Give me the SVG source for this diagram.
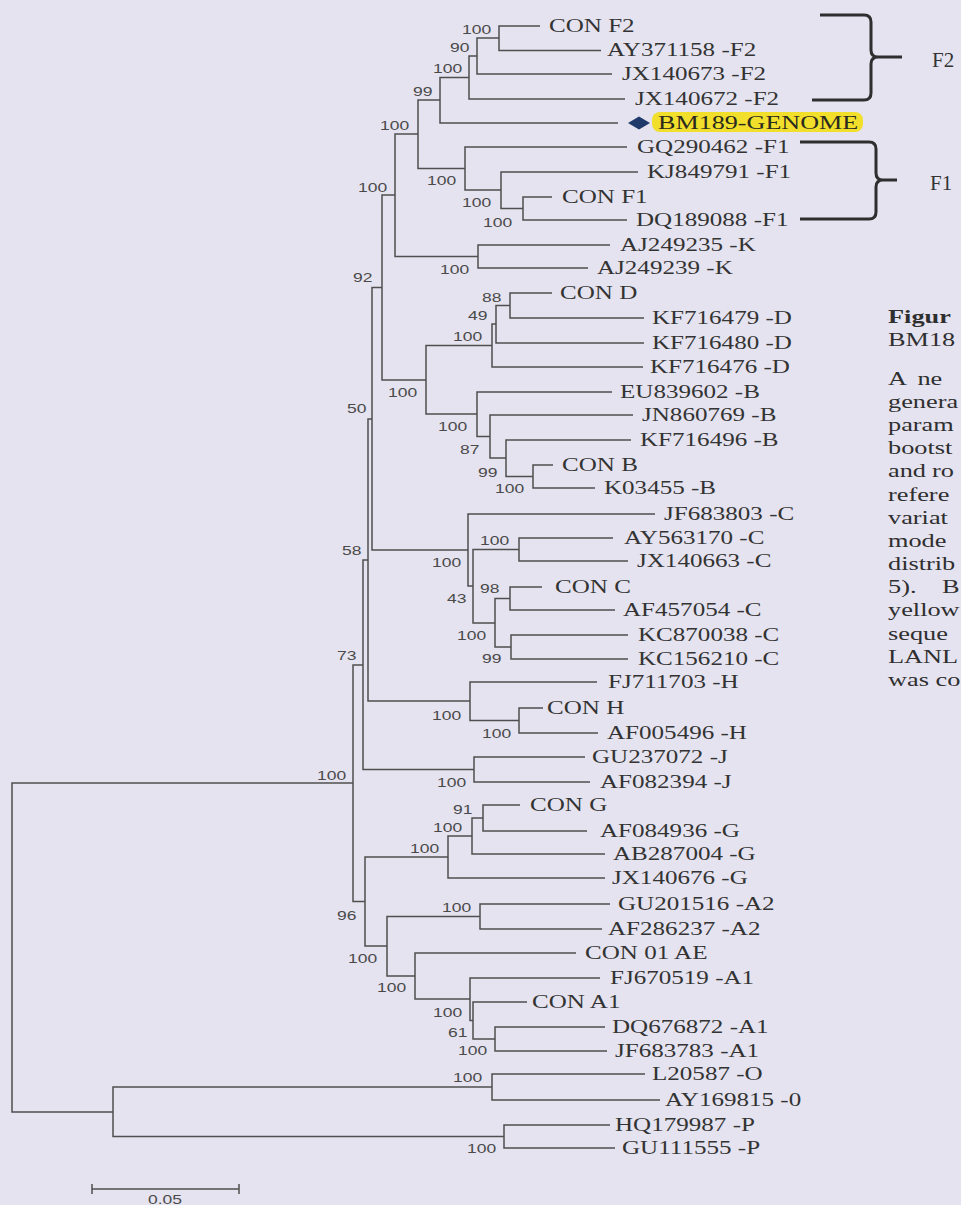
<svg xmlns="http://www.w3.org/2000/svg" width="961" height="1205" viewBox="0 0 961 1205">
<style>
.br{stroke:#4f4f4f;stroke-width:1.5;fill:none}
.lf{font-family:"Liberation Serif",serif;font-size:19px;fill:#333;transform-box:fill-box;transform-origin:0 0;transform:scaleX(1.32)}
.bs{font-family:"Liberation Sans",sans-serif;font-size:12.5px;fill:#4a4a4a;transform-box:fill-box;transform-origin:0 0;transform:scaleX(1.4)}
.bk{stroke:#2e2e2e;stroke-width:3;fill:none}
.cap{font-family:"Liberation Serif",serif;font-size:18.8px;fill:#2f2f2f}
.fl{font-family:"Liberation Serif",serif;font-size:21px;fill:#333}
</style>
<rect x="0" y="0" width="961" height="1205" fill="#e5e3ef"/>
<g id="connectors">
<path class="br" d="M540 26H499V50.5H601"/>
<path class="br" d="M499 38H477V74H612"/>
<path class="br" d="M477 56H469V99H625"/>
<path class="br" d="M469 77.5H440V123H618"/>
<path class="br" d="M552 197H523V220H627"/>
<path class="br" d="M638 172H501V208.5H523"/>
<path class="br" d="M627 147H465V190H501"/>
<path class="br" d="M440 100H418V168.5H465"/>
<path class="br" d="M610 245H478V268H588"/>
<path class="br" d="M418 134H395V256.5H478"/>
<path class="br" d="M552 293H510V318H644"/>
<path class="br" d="M510 305.5H496V343H644"/>
<path class="br" d="M496 324H492V367H643"/>
<path class="br" d="M553 465H533V488H595"/>
<path class="br" d="M631 440H506V476.5H533"/>
<path class="br" d="M633 415H490V458H506"/>
<path class="br" d="M612 392H477V436.5H490"/>
<path class="br" d="M492 345.5H426V414H477"/>
<path class="br" d="M395 195H382V380H426"/>
<path class="br" d="M613 538H519V561H628"/>
<path class="br" d="M542 587H510V610H615"/>
<path class="br" d="M628 635H511V659H628"/>
<path class="br" d="M510 598.5H495V647H511"/>
<path class="br" d="M519 549.5H473V623H495"/>
<path class="br" d="M655 514H468V586H473"/>
<path class="br" d="M382 287.5H372V550H468"/>
<path class="br" d="M543 708H519V733H598"/>
<path class="br" d="M597 682H470V720.5H519"/>
<path class="br" d="M372 419H368V701H470"/>
<path class="br" d="M585 757H474V782H590"/>
<path class="br" d="M368 560H363V769.5H474"/>
<path class="br" d="M520 805H483V831H587"/>
<path class="br" d="M483 818H472V854H605"/>
<path class="br" d="M472 836H448V878H605"/>
<path class="br" d="M610 904H480V929H602"/>
<path class="br" d="M605 1027H495V1051H607"/>
<path class="br" d="M527 1002H473V1039H495"/>
<path class="br" d="M600 978H470V1020.5H473"/>
<path class="br" d="M576 953H415V999H470"/>
<path class="br" d="M480 916.5H387V976H415"/>
<path class="br" d="M448 857H365V946H387"/>
<path class="br" d="M363 665H353V901.5H365"/>
<path class="br" d="M645 1074H492V1100H660"/>
<path class="br" d="M610 1125H504V1148H615"/>
<path class="br" d="M492 1087H113V1136.5H504"/>
<path class="br" d="M353 783H12V1112H113"/>
</g>
<g id="leaves">
<g id="leaf-conf2"><text class="lf" x="549" y="32">CON F2</text></g>
<g id="leaf-ay371158"><text class="lf" x="607" y="56.5">AY371158 -F2</text></g>
<g id="leaf-jx140673"><text class="lf" x="622" y="80">JX140673 -F2</text></g>
<g id="leaf-jx140672"><text class="lf" x="635" y="105">JX140672 -F2</text></g>
<g id="leaf-bm189">
<rect x="652" y="112" width="211" height="20" rx="8" fill="#f1df2c"/>
<polygon points="628,123 639,116.5 650,123 639,129.5" fill="#1f3a6a"/>
<text class="lf" x="658" y="129" style="font-size:19.5px;fill:#2a2a1e;transform:scaleX(1.34)">BM189-GENOME</text>
</g>
<g id="leaf-gq290462"><text class="lf" x="637" y="153">GQ290462 -F1</text></g>
<g id="leaf-kj849791"><text class="lf" x="647" y="178">KJ849791 -F1</text></g>
<g id="leaf-conf1"><text class="lf" x="562" y="203">CON F1</text></g>
<g id="leaf-dq189088"><text class="lf" x="636" y="226">DQ189088 -F1</text></g>
<g id="leaf-aj249235"><text class="lf" x="620" y="251">AJ249235 -K</text></g>
<g id="leaf-aj249239"><text class="lf" x="597" y="274">AJ249239 -K</text></g>
<g id="leaf-cond"><text class="lf" x="560" y="299">CON D</text></g>
<g id="leaf-kf716479"><text class="lf" x="652" y="324">KF716479 -D</text></g>
<g id="leaf-kf716480"><text class="lf" x="652" y="349">KF716480 -D</text></g>
<g id="leaf-kf716476"><text class="lf" x="650" y="373">KF716476 -D</text></g>
<g id="leaf-eu839602"><text class="lf" x="620" y="398">EU839602 -B</text></g>
<g id="leaf-jn860769"><text class="lf" x="642" y="421">JN860769 -B</text></g>
<g id="leaf-kf716496"><text class="lf" x="640" y="446">KF716496 -B</text></g>
<g id="leaf-conb"><text class="lf" x="562" y="471">CON B</text></g>
<g id="leaf-k03455"><text class="lf" x="604" y="494">K03455 -B</text></g>
<g id="leaf-jf683803"><text class="lf" x="664" y="520">JF683803 -C</text></g>
<g id="leaf-ay563170"><text class="lf" x="624" y="544">AY563170 -C</text></g>
<g id="leaf-jx140663"><text class="lf" x="637" y="567">JX140663 -C</text></g>
<g id="leaf-conc"><text class="lf" x="555" y="593">CON C</text></g>
<g id="leaf-af457054"><text class="lf" x="623" y="616">AF457054 -C</text></g>
<g id="leaf-kc870038"><text class="lf" x="638" y="641">KC870038 -C</text></g>
<g id="leaf-kc156210"><text class="lf" x="638" y="665">KC156210 -C</text></g>
<g id="leaf-fj711703"><text class="lf" x="608" y="688">FJ711703 -H</text></g>
<g id="leaf-conh"><text class="lf" x="547" y="714">CON H</text></g>
<g id="leaf-af005496"><text class="lf" x="607" y="739">AF005496 -H</text></g>
<g id="leaf-gu237072"><text class="lf" x="592" y="763">GU237072 -J</text></g>
<g id="leaf-af082394"><text class="lf" x="600" y="788">AF082394 -J</text></g>
<g id="leaf-cong"><text class="lf" x="530" y="811">CON G</text></g>
<g id="leaf-af084936"><text class="lf" x="600" y="837">AF084936 -G</text></g>
<g id="leaf-ab287004"><text class="lf" x="613" y="860">AB287004 -G</text></g>
<g id="leaf-jx140676"><text class="lf" x="612" y="884">JX140676 -G</text></g>
<g id="leaf-gu201516"><text class="lf" x="618" y="910">GU201516 -A2</text></g>
<g id="leaf-af286237"><text class="lf" x="608" y="935">AF286237 -A2</text></g>
<g id="leaf-con01ae"><text class="lf" x="585" y="959">CON 01 AE</text></g>
<g id="leaf-fj670519"><text class="lf" x="610" y="984">FJ670519 -A1</text></g>
<g id="leaf-cona1"><text class="lf" x="532" y="1008">CON A1</text></g>
<g id="leaf-dq676872"><text class="lf" x="612" y="1033">DQ676872 -A1</text></g>
<g id="leaf-jf683783"><text class="lf" x="615" y="1057">JF683783 -A1</text></g>
<g id="leaf-l20587"><text class="lf" x="652" y="1080">L20587 -O</text></g>
<g id="leaf-ay169815"><text class="lf" x="665" y="1106">AY169815 -0</text></g>
<g id="leaf-hq179987"><text class="lf" x="615" y="1131">HQ179987 -P</text></g>
<g id="leaf-gu111555"><text class="lf" x="622" y="1154">GU111555 -P</text></g>
</g>
<g id="bootstrap">
<g id="n499"><text class="bs" x="462" y="34">100</text></g>
<g id="n477b"><text class="bs" x="450" y="52">90</text></g>
<g id="n469"><text class="bs" x="433" y="73">100</text></g>
<g id="n440"><text class="bs" x="413" y="96">99</text></g>
<g id="n418"><text class="bs" x="380" y="130">100</text></g>
<g id="n395"><text class="bs" x="358" y="192">100</text></g>
<g id="n465"><text class="bs" x="427" y="185">100</text></g>
<g id="n501"><text class="bs" x="462" y="207">100</text></g>
<g id="n523"><text class="bs" x="483" y="227">100</text></g>
<g id="n478"><text class="bs" x="440" y="274">100</text></g>
<g id="n382"><text class="bs" x="353" y="282">92</text></g>
<g id="n510"><text class="bs" x="482" y="302">88</text></g>
<g id="n496"><text class="bs" x="468" y="320">49</text></g>
<g id="n492"><text class="bs" x="453" y="341">100</text></g>
<g id="n426"><text class="bs" x="388" y="397">100</text></g>
<g id="n372"><text class="bs" x="347" y="413">50</text></g>
<g id="n477"><text class="bs" x="438" y="431">100</text></g>
<g id="n490"><text class="bs" x="460" y="454">87</text></g>
<g id="n506"><text class="bs" x="478" y="477">99</text></g>
<g id="n533"><text class="bs" x="495" y="493">100</text></g>
<g id="n519c"><text class="bs" x="480" y="545">100</text></g>
<g id="n368"><text class="bs" x="342" y="555">58</text></g>
<g id="n468c"><text class="bs" x="432" y="567">100</text></g>
<g id="n510c"><text class="bs" x="480" y="593">98</text></g>
<g id="n473c"><text class="bs" x="447" y="603">43</text></g>
<g id="n495c"><text class="bs" x="457" y="640">100</text></g>
<g id="n363"><text class="bs" x="337" y="660">73</text></g>
<g id="n511c"><text class="bs" x="482" y="663">99</text></g>
<g id="n470h"><text class="bs" x="432" y="720">100</text></g>
<g id="n519h"><text class="bs" x="482" y="738">100</text></g>
<g id="n353"><text class="bs" x="317" y="780">100</text></g>
<g id="n474j"><text class="bs" x="437" y="787">100</text></g>
<g id="n483g"><text class="bs" x="453" y="814">91</text></g>
<g id="n472g"><text class="bs" x="433" y="832">100</text></g>
<g id="n448g"><text class="bs" x="410" y="853">100</text></g>
<g id="n480a"><text class="bs" x="442" y="912">100</text></g>
<g id="n365"><text class="bs" x="337" y="920">96</text></g>
<g id="n387a"><text class="bs" x="348" y="963">100</text></g>
<g id="n415a"><text class="bs" x="377" y="992">100</text></g>
<g id="n470a"><text class="bs" x="433" y="1017">100</text></g>
<g id="n473a"><text class="bs" x="448" y="1037">61</text></g>
<g id="n495a"><text class="bs" x="458" y="1055">100</text></g>
<g id="n492o"><text class="bs" x="453" y="1082">100</text></g>
<g id="n504p"><text class="bs" x="467" y="1153">100</text></g>
</g>
<g id="scalebar">
<path class="br" d="M92 1189H239M92 1184V1194M239 1184V1194"/>
<text class="bs" x="148" y="1204">0.05</text>
</g>
<g id="bracket-f2">
<path class="bk" d="M820 15H864Q871 15 871 22V50Q871 57 878 57H902M878 57Q871 57 871 64V93Q871 100 864 100H812"/>
<text class="fl" x="932" y="67">F2</text>
</g>
<g id="bracket-f1">
<path class="bk" d="M800 142H869Q876 142 876 149V173Q876 180 883 180H897M883 180Q876 180 876 187V212Q876 219 869 219H800"/>
<text class="fl" x="930" y="190">F1</text>
</g>
<g id="caption" transform="translate(888 0) scale(1.4 1)">
<text class="cap" x="0" y="323" font-weight="bold">Figur</text>
<text class="cap" x="0" y="346">BM18</text>
<text class="cap" x="0" y="385">A<tspan x="21">ne</tspan></text>
<text class="cap" x="0" y="408">genera</text>
<text class="cap" x="0" y="431">param</text>
<text class="cap" x="0" y="454">bootst</text>
<text class="cap" x="0" y="477">and<tspan x="31.5">ro</tspan></text>
<text class="cap" x="0" y="501">refere</text>
<text class="cap" x="0" y="524">variat</text>
<text class="cap" x="0" y="547">mode</text>
<text class="cap" x="0" y="570">distrib</text>
<text class="cap" x="0" y="593">5).<tspan x="38.5">B</tspan></text>
<text class="cap" x="0" y="616">yellow</text>
<text class="cap" x="0" y="640">seque</text>
<text class="cap" x="0" y="663">LANL</text>
<text class="cap" x="0" y="686">was co</text>
</g>
</svg>
